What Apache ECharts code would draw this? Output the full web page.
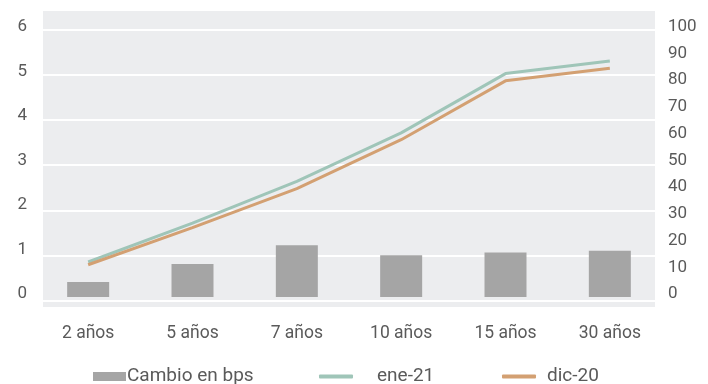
<!DOCTYPE html>
<html><head><meta charset="utf-8">
<script src="https://cdn.jsdelivr.net/npm/echarts@6/dist/echarts.min.js"></script>
<style>html,body{margin:0;padding:0;background:#fff}#c{width:708px;height:384px}</style>
</head><body><div id="c"></div>
<script>
const categories = ['2 años', '5 años', '7 años', '10 años', '15 años', '30 años'];
const cambioBps = [5.6, 12.4, 19.5, 15.7, 16.7, 17.4];
const ene21 = [0.86, 1.72, 2.64, 3.71, 5.02, 5.30];
const dic20 = [0.80, 1.62, 2.48, 3.56, 4.86, 5.14];
const leftTicks = [0, 1, 2, 3, 4, 5, 6];
const rightTicks = [0, 10, 20, 30, 40, 50, 60, 70, 80, 90, 100];

const font = 'Roboto';
const txt = '#5a5a5a';
const green = '#9fc5b8';
const orange = '#d3a072';
const gray = '#a5a5a5';

const lblStyle = {color: txt, fontSize: 17, fontFamily: font};

const chart = echarts.init(document.getElementById('c'), null, {renderer: 'canvas'});
chart.setOption({
  animation: false,
  textStyle: {fontFamily: font},
  grid: [
    {left: 36, right: 46, top: 31, bottom: 87},
    {left: 43, right: 53, top: 29.3, bottom: 83},
    {left: 43, right: 53, top: 11, bottom: 77, show: true, backgroundColor: '#ecedef', borderWidth: 0, z: -1},
    {left: 43, right: 46, top: 26.7, bottom: 90}
  ],
  xAxis: [
    {type: 'category', gridIndex: 0, data: categories,
     axisLine: {show: false}, axisTick: {show: false},
     axisLabel: {color: txt, fontSize: 17.5, fontFamily: font, margin: 28}},
    {type: 'value', gridIndex: 1, show: false},
    {type: 'value', gridIndex: 2, show: false},
    {type: 'value', gridIndex: 3, show: false}
  ],
  yAxis: [
    {type: 'value', gridIndex: 0, position: 'right', min: rightTicks[0], max: rightTicks[rightTicks.length - 1], interval: 10,
     axisLine: {show: false}, axisTick: {show: false}, splitLine: {show: false}, axisLabel: {show: false}},
    {type: 'value', gridIndex: 0, show: false, min: 0.088, max: 5.96},
    {type: 'value', gridIndex: 1, position: 'left', min: leftTicks[0], max: leftTicks[leftTicks.length - 1], interval: 1,
     axisLine: {show: false}, axisTick: {show: false}, axisLabel: {show: false},
     splitLine: {show: true, lineStyle: {color: '#ffffff', width: 2}}},
    {type: 'value', gridIndex: 2, show: false},
    {type: 'value', gridIndex: 3, position: 'left', min: leftTicks[0], max: leftTicks[leftTicks.length - 1], interval: 1,
     axisLine: {show: false}, axisTick: {show: false}, splitLine: {show: false},
     axisLabel: Object.assign({margin: 16}, lblStyle)},
    {type: 'value', gridIndex: 3, position: 'right', min: rightTicks[0], max: rightTicks[rightTicks.length - 1], interval: 10,
     axisLine: {show: false}, axisTick: {show: false}, splitLine: {show: false},
     axisLabel: Object.assign({margin: 6}, lblStyle)}
  ],
  legend: [
    {data: [{name: 'Cambio en bps', icon: 'rect'}], left: 93, top: 367, padding: 0, itemWidth: 33, itemHeight: 9,
     textStyle: {color: txt, fontSize: 19, fontFamily: font, padding: [0, 0, 0, -4]}},
    {data: [{name: 'ene-21', icon: 'roundRect'}], left: 319, top: 367, padding: 0, itemWidth: 34, itemHeight: 4,
     textStyle: {color: txt, fontSize: 19, fontFamily: font, padding: [0, 0, 0, 19]}},
    {data: [{name: 'dic-20', icon: 'roundRect'}], left: 502, top: 367, padding: 0, itemWidth: 34, itemHeight: 4,
     textStyle: {color: txt, fontSize: 19, fontFamily: font, padding: [0, 0, 0, 6]}}
  ],
  series: [
    {name: 'Cambio en bps', type: 'bar', xAxisIndex: 0, yAxisIndex: 0, data: cambioBps,
     barWidth: 42, itemStyle: {color: gray}, z: 2},
    {name: 'ene-21', type: 'line', xAxisIndex: 0, yAxisIndex: 1, data: ene21,
     symbol: 'none', lineStyle: {color: green, width: 3}, itemStyle: {color: green}, z: 3},
    {name: 'dic-20', type: 'line', xAxisIndex: 0, yAxisIndex: 1, data: dic20,
     symbol: 'none', lineStyle: {color: orange, width: 3}, itemStyle: {color: orange}, z: 4}
  ]
});
</script></body></html>
